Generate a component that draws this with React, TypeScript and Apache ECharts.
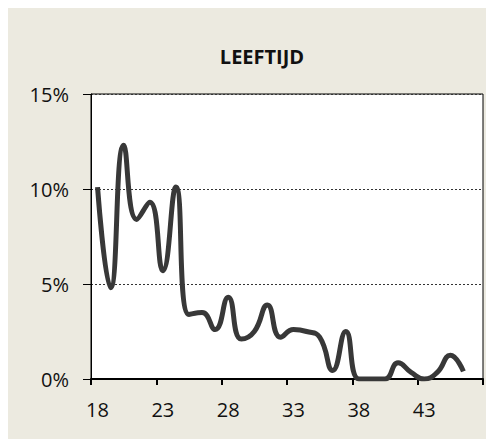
import React, { useEffect, useRef } from "react";
import * as echarts from "echarts";

const ages: string[] = [
  "18","19","20","21","22","23","24","25","26","27","28","29","30","31","32",
  "33","34","35","36","37","38","39","40","41","42","43","44","45","46","47",
];
const shares: number[] = [
  10.1, 4.8, 12.3, 8.4, 9.3, 5.7, 10.1, 3.4, 3.5, 2.6, 4.3, 2.1, 2.5, 3.9, 2.2,
  2.6, 2.5, 2.2, 0.45, 2.5, 0, 0, 0, 0.85, 0.35, 0, 0.35, 1.25, 0.4,
];
const title = "LEEFTIJD";

export default function App() {
  const ref = useRef<HTMLDivElement>(null);
  useEffect(() => {
    if (!ref.current) return;
    const chart = echarts.init(ref.current, undefined, { renderer: "svg" });
    chart.setOption({
      animation: false,
      backgroundColor: "#ECEAE0",
      textStyle: { fontFamily: "Open Sans" },
      title: {
        text: title,
        left: 249,
        top: 33,
        textAlign: "center",
        textStyle: { fontFamily: "Open Sans", fontWeight: "bold", fontSize: 20, color: "#111" },
      },
      grid: {
        left: 83,
        right: 11,
        top: 86,
        bottom: 60,
        show: true,
        backgroundColor: "#ffffff",
        borderColor: "#000",
        borderWidth: 1,
      },
      xAxis: {
        type: "category",
        data: ages,
        boundaryGap: true,
        axisLine: { lineStyle: { color: "#000", width: 2 } },
        axisTick: { show: true, interval: 4, length: 6, lineStyle: { color: "#000", width: 2 } },
        axisLabel: { interval: 4, fontSize: 20, color: "#111", margin: 20, fontFamily: "Open Sans" },
        splitLine: { show: false },
      },
      yAxis: {
        type: "value",
        min: 0,
        max: 15,
        interval: 5,
        axisLine: { show: true, lineStyle: { color: "#000", width: 1 } },
        axisTick: { show: true, length: 8, lineStyle: { color: "#000", width: 1 } },
        axisLabel: { formatter: "{value}%", fontSize: 20, color: "#111", margin: 22, fontFamily: "Open Sans" },
        splitLine: { show: true, lineStyle: { color: "#333", type: [2, 2], width: 1 } },
      },
      series: [
        {
          type: "line",
          data: shares,
          smooth: 0.5,
          showSymbol: false,
          symbol: "none",
          lineStyle: { color: "#383838", width: 5 },
        },
      ],
    });
    return () => chart.dispose();
  }, []);
  return <div ref={ref} style={{ width: 486, height: 431 }} />;
}
